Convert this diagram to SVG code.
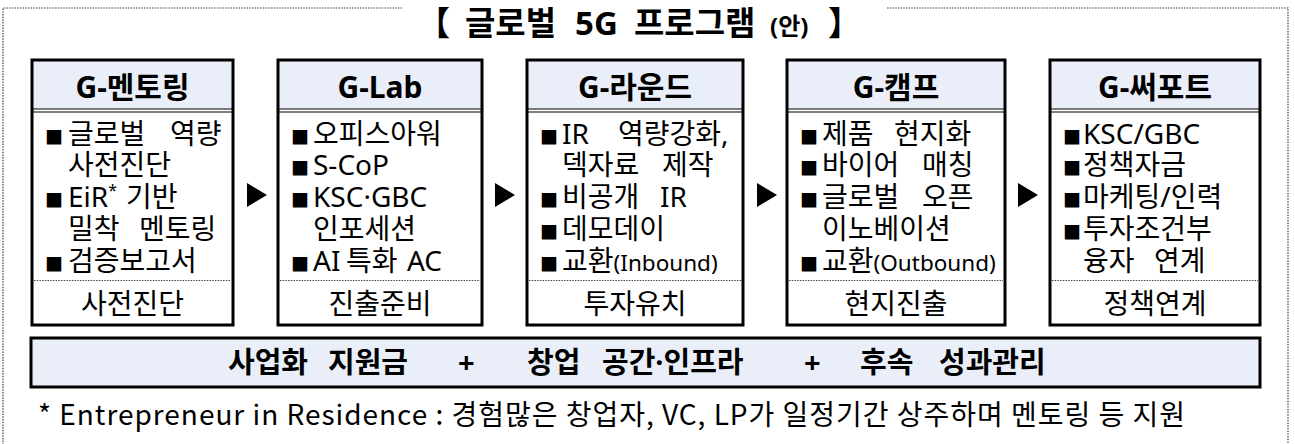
<svg xmlns="http://www.w3.org/2000/svg" width="1295" height="444" viewBox="0 0 1295 444">
<style>
text{font-family:'Noto Sans','Noto Sans CJK KR',sans-serif;fill:#000}
.frame{fill:none;stroke:#444;stroke-width:1.2;stroke-dasharray:1.5 1.2}
.bx{fill:none;stroke:#000;stroke-width:3}
.bg{fill:#fff}
.hd{fill:#E9EEF9}
.hl{stroke:#000;stroke-width:1.2}
.sep{stroke:#444;stroke-width:1.2;stroke-dasharray:1.5 1.2}
.h{font-size:30px;font-weight:700;text-anchor:middle}
.t{font-size:28px}
.f{font-size:28px;text-anchor:middle}
.bl{font-size:18px;font-family:'Noto Sans CJK KR',sans-serif}
.sm{font-size:22.5px}
.sup{font-size:16px}
.ar{fill:#000}
.tt{font-size:33px;font-weight:700}
.br{font-family:'Noto Sans CJK KR',sans-serif}
.bt{font-size:29px;font-weight:700}
.fn{font-size:28px;font-family:'Noto Sans CJK KR',sans-serif}
</style>

<g id="frame">
<path class="frame" d="M402,8 H3 V444 M887,8 H1288 V444"/>
</g>

<g id="title">
<text class="tt" y="35"><tspan class="br" x="417">【</tspan><tspan x="465">글로벌</tspan><tspan x="575">5G</tspan><tspan x="634">프로그램</tspan><tspan x="770" font-size="24">(안)</tspan><tspan class="br" x="828">】</tspan></text>
</g>

<g id="box1">
<rect class="bg" x="32" y="60" width="201" height="265"/>
<rect class="hd" x="32" y="60" width="201" height="49"/>
<line class="hl" x1="32" y1="109" x2="233" y2="109"/>
<line class="hl" x1="32" y1="112" x2="233" y2="112"/>
<line class="sep" x1="34" y1="280.5" x2="231" y2="280.5"/>
<rect class="bx" x="32" y="60" width="201" height="265"/>
<text class="h" x="132.5" y="98">G-멘토링</text>
<text class="bl" x="45" y="144">■</text><text class="t" y="144"><tspan x="68">글로벌</tspan><tspan x="170">역량</tspan></text>
<text class="t" x="68" y="175">사전진단</text>
<text class="bl" x="45" y="207">■</text><text class="t" y="207"><tspan x="68">EiR</tspan><tspan class="sup" dy="-11">*</tspan><tspan x="126" dy="11">기반</tspan></text>
<text class="t" y="239"><tspan x="68">밀착</tspan><tspan x="139">멘토링</tspan></text>
<text class="bl" x="45" y="271">■</text><text class="t" x="68" y="271">검증보고서</text>
<text class="f" x="132.5" y="314">사전진단</text>
</g>

<g id="box2">
<rect class="bg" x="278" y="60" width="204" height="265"/>
<rect class="hd" x="278" y="60" width="204" height="49"/>
<line class="hl" x1="278" y1="109" x2="482" y2="109"/>
<line class="hl" x1="278" y1="112" x2="482" y2="112"/>
<line class="sep" x1="280" y1="280.5" x2="480" y2="280.5"/>
<rect class="bx" x="278" y="60" width="204" height="265"/>
<text class="h" x="380" y="98">G-Lab</text>
<text class="bl" x="291" y="144">■</text><text class="t" x="313" y="144">오피스아워</text>
<text class="bl" x="291" y="175">■</text><text class="t" x="313" y="175">S-CoP</text>
<text class="bl" x="291" y="207">■</text><text class="t" x="313" y="207">KSC·GBC</text>
<text class="t" x="313" y="239">인포세션</text>
<text class="bl" x="291" y="271">■</text><text class="t" y="271"><tspan x="313">AI</tspan><tspan x="346">특화</tspan><tspan x="407">AC</tspan></text>
<text class="f" x="380" y="314">진출준비</text>
</g>

<g id="box3">
<rect class="bg" x="527" y="60" width="216" height="265"/>
<rect class="hd" x="527" y="60" width="216" height="49"/>
<line class="hl" x1="527" y1="109" x2="743" y2="109"/>
<line class="hl" x1="527" y1="112" x2="743" y2="112"/>
<line class="sep" x1="529" y1="280.5" x2="741" y2="280.5"/>
<rect class="bx" x="527" y="60" width="216" height="265"/>
<text class="h" x="635" y="98">G-라운드</text>
<text class="bl" x="540" y="144">■</text><text class="t" y="144"><tspan x="562">IR</tspan><tspan x="618">역량강화,</tspan></text>
<text class="t" y="175"><tspan x="562">덱자료</tspan><tspan x="662">제작</tspan></text>
<text class="bl" x="540" y="207">■</text><text class="t" y="207"><tspan x="562">비공개</tspan><tspan x="660">IR</tspan></text>
<text class="bl" x="540" y="239">■</text><text class="t" x="562" y="239">데모데이</text>
<text class="bl" x="540" y="271">■</text><text class="t" y="271"><tspan x="562">교환</tspan><tspan class="sm">(Inbound)</tspan></text>
<text class="f" x="635" y="314">투자유치</text>
</g>

<g id="box4">
<rect class="bg" x="787" y="60" width="218" height="265"/>
<rect class="hd" x="787" y="60" width="218" height="49"/>
<line class="hl" x1="787" y1="109" x2="1005" y2="109"/>
<line class="hl" x1="787" y1="112" x2="1005" y2="112"/>
<line class="sep" x1="789" y1="280.5" x2="1003" y2="280.5"/>
<rect class="bx" x="787" y="60" width="218" height="265"/>
<text class="h" x="896" y="98">G-캠프</text>
<text class="bl" x="800" y="144">■</text><text class="t" y="144"><tspan x="822">제품</tspan><tspan x="894">현지화</tspan></text>
<text class="bl" x="800" y="175">■</text><text class="t" y="175"><tspan x="822">바이어</tspan><tspan x="922">매칭</tspan></text>
<text class="bl" x="800" y="207">■</text><text class="t" y="207"><tspan x="822">글로벌</tspan><tspan x="922">오픈</tspan></text>
<text class="t" x="822" y="239">이노베이션</text>
<text class="bl" x="800" y="271">■</text><text class="t" y="271"><tspan x="822">교환</tspan><tspan class="sm">(Outbound)</tspan></text>
<text class="f" x="896" y="314">현지진출</text>
</g>

<g id="box5">
<rect class="bg" x="1050" y="60" width="210" height="265"/>
<rect class="hd" x="1050" y="60" width="210" height="49"/>
<line class="hl" x1="1050" y1="109" x2="1260" y2="109"/>
<line class="hl" x1="1050" y1="112" x2="1260" y2="112"/>
<line class="sep" x1="1052" y1="280.5" x2="1258" y2="280.5"/>
<rect class="bx" x="1050" y="60" width="210" height="265"/>
<text class="h" x="1155" y="98">G-써포트</text>
<text class="bl" x="1063" y="144">■</text><text class="t" x="1083" y="144">KSC/GBC</text>
<text class="bl" x="1063" y="175">■</text><text class="t" x="1083" y="175">정책자금</text>
<text class="bl" x="1063" y="207">■</text><text class="t" x="1083" y="207">마케팅/인력</text>
<text class="bl" x="1063" y="239">■</text><text class="t" x="1083" y="239">투자조건부</text>
<text class="t" y="271"><tspan x="1083">융자</tspan><tspan x="1154">연계</tspan></text>
<text class="f" x="1155" y="314">정책연계</text>
</g>

<g id="connectors">
<polygon class="ar" points="247,183 267,195 247,207"/>
<polygon class="ar" points="495,183 515,195 495,207"/>
<polygon class="ar" points="757,183 777,195 757,207"/>
<polygon class="ar" points="1018,183 1038,195 1018,207"/>
</g>

<g id="bar">
<rect class="hd" x="31" y="338" width="1229" height="49" stroke="#000" stroke-width="3"/>
<text class="bt" y="373"><tspan x="228">사업화</tspan><tspan x="328">지원금</tspan><tspan x="458">+</tspan><tspan x="527">창업</tspan><tspan x="602">공간·인프라</tspan><tspan x="804">+</tspan><tspan x="860">후속</tspan><tspan x="939">성과관리</tspan></text>
</g>

<g id="footnote">
<text class="fn" x="38" y="425" textLength="1147" lengthAdjust="spacing">* Entrepreneur in Residence : 경험많은 창업자, VC, LP가 일정기간 상주하며 멘토링 등 지원</text>
</g>
</svg>
